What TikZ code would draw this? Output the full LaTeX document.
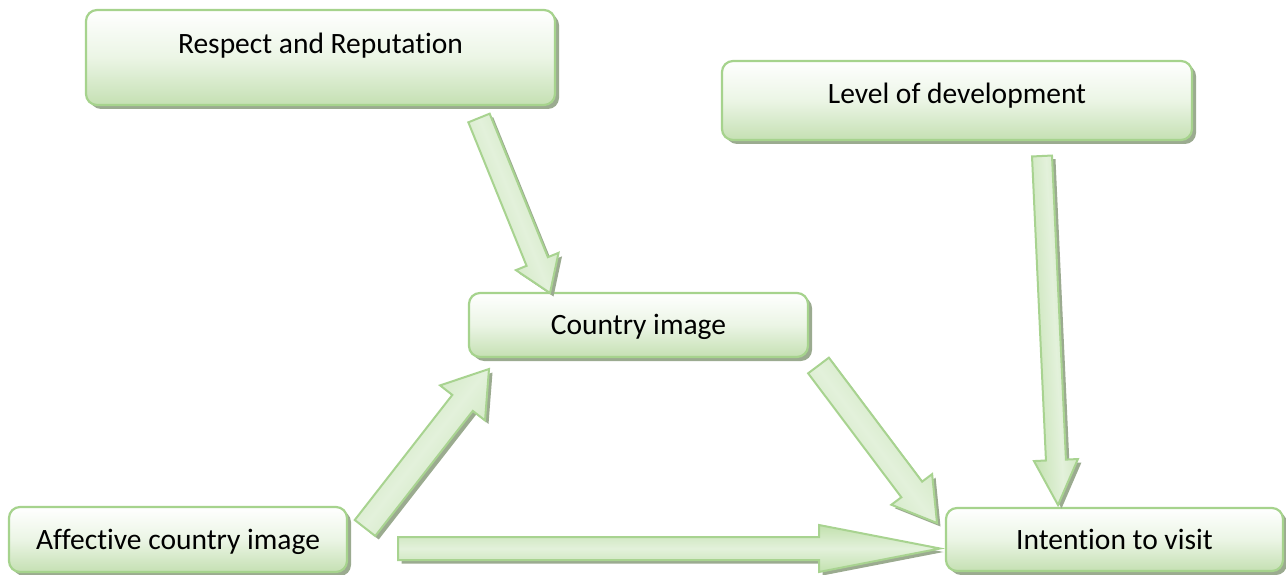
\documentclass[tikz,border=0pt]{standalone}
\usepackage{fontspec}
\setmainfont{Carlito}[Ligatures=NoCommon]
\usetikzlibrary{calc,shadows}
\definecolor{boxline}{HTML}{A6D38D}
\definecolor{boxbot}{HTML}{C5E0B3}
\definecolor{boxmid}{HTML}{EBF5E5}
\definecolor{shadowc}{HTML}{9BAB90}
\definecolor{arrline}{HTML}{A8D390}
\definecolor{arredge}{HTML}{C2E1AE}
\definecolor{arrmid}{HTML}{E3F1DB}
\tikzset{
  diagbox/.style={draw=boxline, line width=2.2pt, rounded corners=11pt,
    top color=white, bottom color=boxbot, middle color=boxmid,
    drop shadow={shadow xshift=4pt, shadow yshift=-4pt, fill=shadowc, opacity=1},
    font=\fontsize{29.5}{35}\selectfont, inner sep=0pt,
    text height=26pt, text depth=7pt},
  arrshadow/.style={fill=shadowc, transform canvas={xshift=3.5pt,yshift=-3.5pt}},
  arrbody/.style={draw=arrline, line width=2pt, line join=miter,
    top color=arredge, bottom color=arredge, middle color=arrmid}
}
% #1 tail, #2 tip, #3 half shaft, #4 half head, #5 head length, #6 shading angle
\newcommand\blockarrow[6]{%
  \fill[arrshadow] ($(#1)!#3!90:(#2)$) -- ($(#2)!#5!(#1)!#3!-90:(#1)$)
    -- ($(#2)!#5!(#1)!#4!-90:(#1)$) -- (#2) -- ($(#2)!#5!(#1)!#4!90:(#1)$)
    -- ($(#2)!#5!(#1)!#3!90:(#1)$) -- ($(#1)!#3!-90:(#2)$) -- cycle;
  \path[arrbody, shading angle=#6] ($(#1)!#3!90:(#2)$) -- ($(#2)!#5!(#1)!#3!-90:(#1)$)
    -- ($(#2)!#5!(#1)!#4!-90:(#1)$) -- (#2) -- ($(#2)!#5!(#1)!#4!90:(#1)$)
    -- ($(#2)!#5!(#1)!#3!90:(#1)$) -- ($(#1)!#3!-90:(#2)$) -- cycle;
}
\begin{document}
\begin{tikzpicture}[x=1pt,y=-1pt]
\useasboundingbox (0,0) rectangle (1286,575);
\node[diagbox, minimum width=469pt, minimum height=95pt, text depth=33pt] (rr) at (320.5,57.5) {Respect and Reputation};
\node[diagbox, minimum width=470pt, minimum height=79pt, text depth=20pt] (lod) at (957,100.5) {Level of development};
\node[diagbox, minimum width=339pt, minimum height=64pt] (ci) at (638.5,325) {Country image};
\node[diagbox, minimum width=338pt, minimum height=65pt] (aci) at (178,539.5) {Affective country image};
\node[diagbox, minimum width=337pt, minimum height=63pt] (itv) at (1114.5,539.5) {Intention to visit};

\coordinate (a1t) at (479,118);    \coordinate (a1h) at (550,293);
\coordinate (a2t) at (365,528);    \coordinate (a2h) at (489,369);
\coordinate (a3t) at (818.5,365.5);\coordinate (a3h) at (937,523);
\coordinate (a4t) at (398,548.5);  \coordinate (a4h) at (940,548.5);
\coordinate (a5t) at (1042,156);   \coordinate (a5h) at (1058,505);

\blockarrow{a1t}{a1h}{11.5pt}{23pt}{34pt}{-68}
\blockarrow{a2t}{a2h}{13pt}{28.5pt}{43pt}{52}
\blockarrow{a3t}{a3h}{13pt}{25.5pt}{42pt}{-53}
\blockarrow{a4t}{a4h}{11.5pt}{23.5pt}{121pt}{0}
\blockarrow{a5t}{a5h}{10pt}{22pt}{45pt}{-87}
\end{tikzpicture}
\end{document}
